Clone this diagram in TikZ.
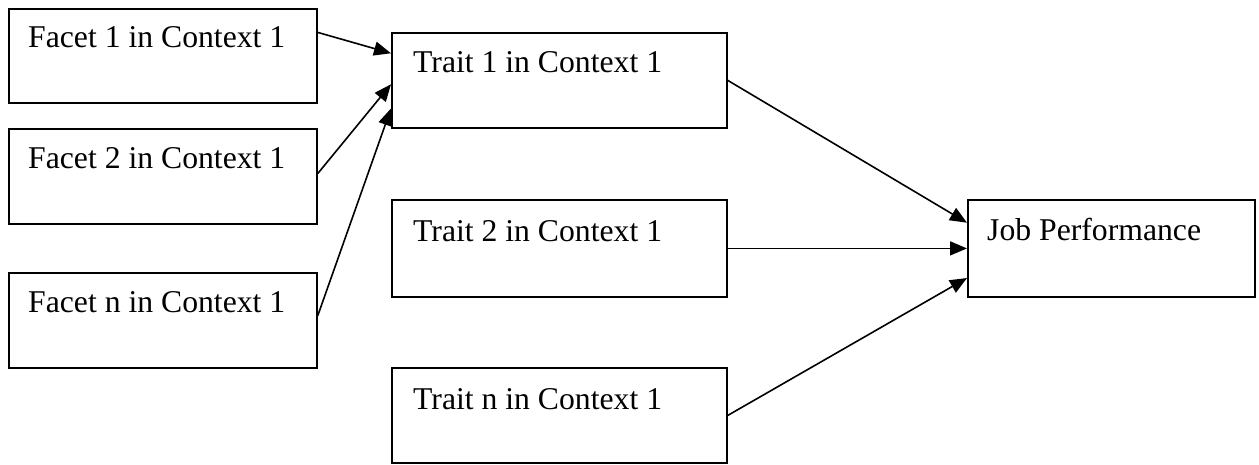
\documentclass[tikz,border=0pt]{standalone}
\usepackage{fontspec}
\setmainfont{Liberation Serif}
\usetikzlibrary{arrows.meta,calc}
\begin{document}
\begin{tikzpicture}[
  box/.style={draw=black, line width=1.8pt, inner sep=0pt, anchor=north west, minimum width=#1},
  txt/.style={anchor=base west, inner sep=0pt, font=\fontsize{31.7pt}{38pt}\selectfont},
  arr/.style={line width=1.6pt, -{Triangle[length=17pt,width=14pt]}}
]
\useasboundingbox (0pt,0pt) rectangle (1259pt,-464pt);
% facets
\node[box=308pt, minimum height=94pt] (f1) at (8pt,-8pt) {};
\node[box=308pt, minimum height=95pt] (f2) at (8pt,-128pt) {};
\node[box=308pt, minimum height=95pt] (fn) at (8pt,-272pt) {};
% traits
\node[box=335pt, minimum height=95pt] (t1) at (391pt,-32pt) {};
\node[box=335pt, minimum height=97pt] (t2) at (391pt,-199pt) {};
\node[box=335pt, minimum height=95pt] (tn) at (391pt,-367pt) {};
% job performance
\node[box=287pt, minimum height=97pt] (jp) at (967pt,-199pt) {};
% texts
\node[txt] (f1t) at ([shift={(20pt,-39pt)}]f1.north west) {Facet 1 in Context 1};
\node[txt] (f2t) at ([shift={(20pt,-40pt)}]f2.north west) {Facet 2 in Context 1};
\node[txt] (fnt) at ([shift={(20pt,-40pt)}]fn.north west) {Facet n in Context 1};
\node[txt] (t1t) at ([shift={(22pt,-40pt)}]t1.north west) {Trait 1 in Context 1};
\node[txt] (t2t) at ([shift={(22pt,-42pt)}]t2.north west) {Trait 2 in Context 1};
\node[txt] (tnt) at ([shift={(22pt,-42pt)}]tn.north west) {Trait n in Context 1};
\node[txt] (jpt) at ([shift={(20pt,-41pt)}]jp.north west) {Job Performance};
% connectors
\draw[arr] ($(f1.north east)!0.255!(f1.south east)$) -- ($(t1.north west)!0.22!(t1.south west)$);
\draw[arr] ($(f2.north east)!0.47!(f2.south east)$) -- ($(t1.north west)!0.54!(t1.south west)$);
\draw[arr] ($(fn.north east)!0.45!(fn.south east)$) -- ($(t1.north west)!0.79!(t1.south west)$);
\draw[arr] (t1.east) -- ($(jp.north west)!0.24!(jp.south west)$);
\draw[arr] (t2.east) -- (jp.west);
\draw[arr] (tn.east) -- ($(jp.north west)!0.80!(jp.south west)$);
\end{tikzpicture}
\end{document}
